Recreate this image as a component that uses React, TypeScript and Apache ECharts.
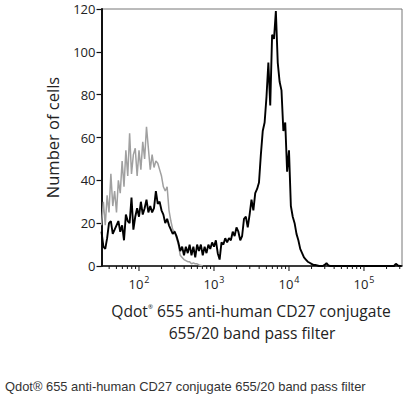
import React, { useEffect, useRef } from "react";
import * as echarts from "echarts";

// Histogram channels: log10 start and step (decades) of each bin
const binStart = 1.5;
const binStep = 0.025;

// Stained sample (black) counts per bin
const stainedCounts = [
  16, 9, 8, 13, 20, 21, 15, 17, 19, 21,
  16, 19, 12, 24, 21, 20, 32, 17, 23, 27,
  23, 30, 24, 27, 31, 25, 28, 25, 27, 35,
  29, 30, 26, 24, 20, 22, 19, 17, 15, 16,
  14, 11, 7, 9, 5, 9, 6, 10, 5, 9,
  4, 10, 7, 10, 5, 9, 6, 10, 8, 11,
  9, 12, 6, 3, 11, 10, 13, 11, 13, 12,
  16, 14, 18, 16, 12, 14, 22, 23, 18, 24,
  31, 26, 34, 36, 39, 52, 63, 67, 79, 95,
  75, 108, 106, 119, 95, 86, 82, 63, 67, 44,
  54, 28, 23, 20, 15, 12, 8, 6, 4, 3,
  2, 1.5, 1, 0.5, 0.5, 0.3, 0, 0, 0, 0.5,
  1.3, 0.3, 0, 0, 0, 0, 0, 0, 0, 0,
  0, 0, 0, 0, 0, 0, 0, 0, 0, 0,
  0, 0, 0, 0, 0, 0, 0, 0, 0, 0,
  0, 0, 0, 0, 0, 0, 0, 1, 0.3, 0,
  0,
];

// Control (gray) counts per bin
const controlCounts = [
  19, 30, 19, 33, 25, 43, 28, 35, 25, 40,
  34, 49, 37, 54, 42, 62, 43, 52, 55, 42,
  54, 45, 58, 50, 65, 55, 45, 52, 46, 49,
  48, 45, 42, 37, 35, 37, 26, 21, 17, 16,
  13, 10, 5, 4, 3, 2.5, 2, 2, 1, 1.5,
  1, 1, 0.5, 0.3, 0,
];

// Axis ticks
const majorTicks = [100, 1000, 10000, 100000];
const minorTicks = [
  40, 50, 60, 70, 80, 90,
  200, 300, 400, 500, 600, 700, 800, 900,
  2000, 3000, 4000, 5000, 6000, 7000, 8000, 9000,
  20000, 30000, 40000, 50000, 60000, 70000, 80000, 90000,
  200000, 300000,
];
const yTicks = { min: 0, max: 120, interval: 20 };

const xTitle1 = ["Qdot", "®", " 655 anti-human CD27 conjugate"];
const xTitle2 = "655/20 band pass filter";
const yTitle = "Number of cells";
const caption = "Qdot® 655 anti-human CD27 conjugate 655/20 band pass filter";

const FONT = '"Open Sans", "Noto Sans", sans-serif';

const toPairs = (arr: number[]) =>
  arr.map((v, i) => [Math.pow(10, binStart + i * binStep), v]);

export default function App() {
  const ref = useRef<HTMLDivElement>(null);
  useEffect(() => {
    if (!ref.current) return;
    const chart = echarts.init(ref.current, null, { renderer: "svg" });
    const tickData = [
      ...majorTicks.map((v) => [v, 0, 1]),
      ...minorTicks.map((v) => [v, 0, 0]),
    ];
    chart.setOption({
      animation: false,
      backgroundColor: "#ffffff",
      grid: {
        left: 101.5,
        right: 4,
        top: 9,
        bottom: 132,
        show: true,
        borderColor: "#777",
        borderWidth: 1,
      },
      xAxis: {
        type: "log",
        logBase: 10,
        min: Math.pow(10, 1.5),
        max: Math.pow(10, 5.507),
        axisLine: { show: true, lineStyle: { color: "#111", width: 1.5 } },
        axisTick: { show: false },
        minorTick: { show: false },
        splitLine: { show: false },
        axisLabel: {
          margin: 9,
          showMinLabel: false,
          showMaxLabel: false,
          formatter: (v: number) => {
            const l = Math.log10(v);
            const e = Math.round(l);
            if (Math.abs(l - e) > 1e-6) return "";
            return `{b|10}{s|${e}}`;
          },
          rich: {
            b: { fontSize: 13, color: "#222", fontFamily: FONT },
            s: { fontSize: 9, color: "#222", fontFamily: FONT, padding: [0, 0, 8, 1] },
          },
        },
      },
      yAxis: {
        type: "value",
        min: yTicks.min,
        max: yTicks.max,
        interval: yTicks.interval,
        name: yTitle,
        nameLocation: "middle",
        nameRotate: 90,
        nameGap: 41,
        nameTextStyle: { fontSize: 16.5, color: "#222", fontFamily: FONT },
        axisLine: { show: true, lineStyle: { color: "#111", width: 2 } },
        axisTick: { show: true, length: 5, lineStyle: { color: "#111", width: 1.2 } },
        splitLine: { show: false },
        axisLabel: { fontSize: 13, color: "#222", fontFamily: FONT, margin: 6 },
      },
      series: [
        {
          type: "line",
          name: "control",
          data: toPairs(controlCounts),
          showSymbol: false,
          symbol: "none",
          lineStyle: { color: "#a0a0a0", width: 1.5 },
          z: 2,
        },
        {
          type: "line",
          name: "stained",
          data: toPairs(stainedCounts),
          showSymbol: false,
          symbol: "none",
          lineStyle: { color: "#000", width: 1.9 },
          z: 3,
        },
        {
          type: "custom",
          name: "ticks",
          clip: false,
          silent: true,
          data: tickData,
          renderItem: (params: any, api: any) => {
            const p = api.coord([api.value(0), 0]);
            const len = api.value(2) ? 5 : 3;
            return {
              type: "line",
              shape: { x1: p[0], y1: p[1], x2: p[0], y2: p[1] + len },
              style: { stroke: "#111", lineWidth: 1 },
            };
          },
          z: 4,
        },
      ],
      graphic: [
        {
          type: "text",
          x: 251,
          y: 310.6,
          style: {
            text: `{a|${xTitle1[0]}}{r|${xTitle1[1]}}{a|${xTitle1[2]}}`,
            align: "center",
            verticalAlign: "middle",
            rich: {
              a: { fontSize: 15.6, fill: "#222", fontFamily: FONT },
              r: { fontSize: 6, fill: "#222", fontFamily: FONT, padding: [0, 0, 8, 0] },
            },
          },
        },
        {
          type: "text",
          x: 252,
          y: 332.6,
          style: {
            text: xTitle2,
            align: "center",
            verticalAlign: "middle",
            fontSize: 15.6,
            fill: "#222",
            fontFamily: FONT,
          },
        },
        {
          type: "text",
          x: 5,
          y: 386,
          style: {
            text: caption,
            align: "left",
            verticalAlign: "middle",
            fontSize: 12.9,
            fill: "#333",
            fontFamily: '"Liberation Sans", Arial, sans-serif',
          },
        },
      ],
    });
    return () => chart.dispose();
  }, []);
  return (
    <div
      ref={ref}
      style={{ position: "fixed", left: 0, top: 0, width: 406, height: 398 }}
    />
  );
}
